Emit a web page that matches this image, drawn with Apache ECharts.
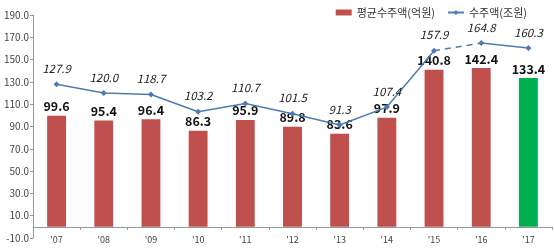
<!DOCTYPE html>
<html><head><meta charset="utf-8">
<script src="https://cdn.jsdelivr.net/npm/echarts@6/dist/echarts.min.js"></script>
<style>html,body{margin:0;padding:0;background:#fff}#c{width:554px;height:252px}</style>
</head><body><div id="c"></div>
<script>
var categories = ["'07","'08","'09","'10","'11","'12","'13","'14","'15","'16","'17"];
var avgOrders = [99.6, 95.4, 96.4, 86.3, 95.9, 89.8, 83.6, 97.9, 140.8, 142.4, 133.4];
var totalOrders = [127.9, 120.0, 118.7, 103.2, 110.7, 101.5, 91.3, 107.4, 157.9, 164.8, 160.3];
var barName = '평균수주액(억원)';
var lineName = '수주액(조원)';
var yMin = -10, yMax = 190, yStep = 20;

var font = '"Noto Sans CJK KR", "Noto Sans", sans-serif';
var red = '#c0504d', green = '#00b050', blue = '#4f7bb3';

// split line: solid '07-'15, dashed '15-'16, solid '16-'17
var solidA = totalOrders.map(function(v,i){return i<=8?v:null;});
var dashed = totalOrders.map(function(v,i){return (i===8||i===9)?v:null;});
var solidB = totalOrders.map(function(v,i){return i>=9?v:null;});

var lineLabel = {show:true, position:'top', distance:7, fontStyle:'italic', fontSize:11.5, color:'#222', fontFamily:font, formatter:function(p){return p.value.toFixed(1);}};

var chart = echarts.init(document.getElementById('c'));
chart.setOption({
  animation:false,
  legend:{
    top:2, right:22, itemGap:12, itemWidth:16, itemHeight:6,
    textStyle:{fontSize:11, color:'#333', fontFamily:font},
    data:[{name:barName, icon:'rect'}, {name:lineName}]
  },
  grid:{left:33, right:2, top:15, bottom:14, outerBoundsMode:'none', containLabel:false},
  xAxis:{
    type:'category', data:categories,
    axisLine:{onZero:true, lineStyle:{color:'#999'}},
    axisTick:{show:true, length:3, lineStyle:{color:'#999'}},
    axisLabel:{fontSize:9, color:'#444', fontFamily:font, margin:-3}
  },
  yAxis:{
    type:'value', min:yMin, max:yMax, interval:yStep,
    axisLine:{show:true, lineStyle:{color:'#999'}},
    axisTick:{show:true, length:3, lineStyle:{color:'#999'}},
    splitLine:{show:false},
    axisLabel:{fontSize:10, color:'#444', fontFamily:font, margin:4, formatter:function(v){return v.toFixed(1);}}
  },
  series:[
    {name:barName, type:'bar', barWidth:'40%',
     data:avgOrders.map(function(v,i){return {value:v, itemStyle:{color: i===avgOrders.length-1?green:red}};}),
     itemStyle:{color:red},
     label:{show:true, position:'top', distance:3, fontWeight:'bold', fontSize:12.5, color:'#111', fontFamily:font, formatter:function(p){return p.value.toFixed(1);}}
    },
    {name:lineName, type:'line', data:solidA, symbol:'diamond', symbolSize:6, connectNulls:false,
     itemStyle:{color:blue}, lineStyle:{color:blue, width:1.5}, label:lineLabel, z:3},
    {name:lineName, type:'line', data:dashed, symbol:'none', connectNulls:false,
     itemStyle:{color:blue}, lineStyle:{color:blue, width:1.5, type:[6,5]}, z:3},
    {name:lineName, type:'line', data:solidB, symbol:'diamond', symbolSize:6, connectNulls:false,
     itemStyle:{color:blue}, lineStyle:{color:blue, width:1.5}, label:lineLabel, z:3}
  ]
});
</script></body></html>
